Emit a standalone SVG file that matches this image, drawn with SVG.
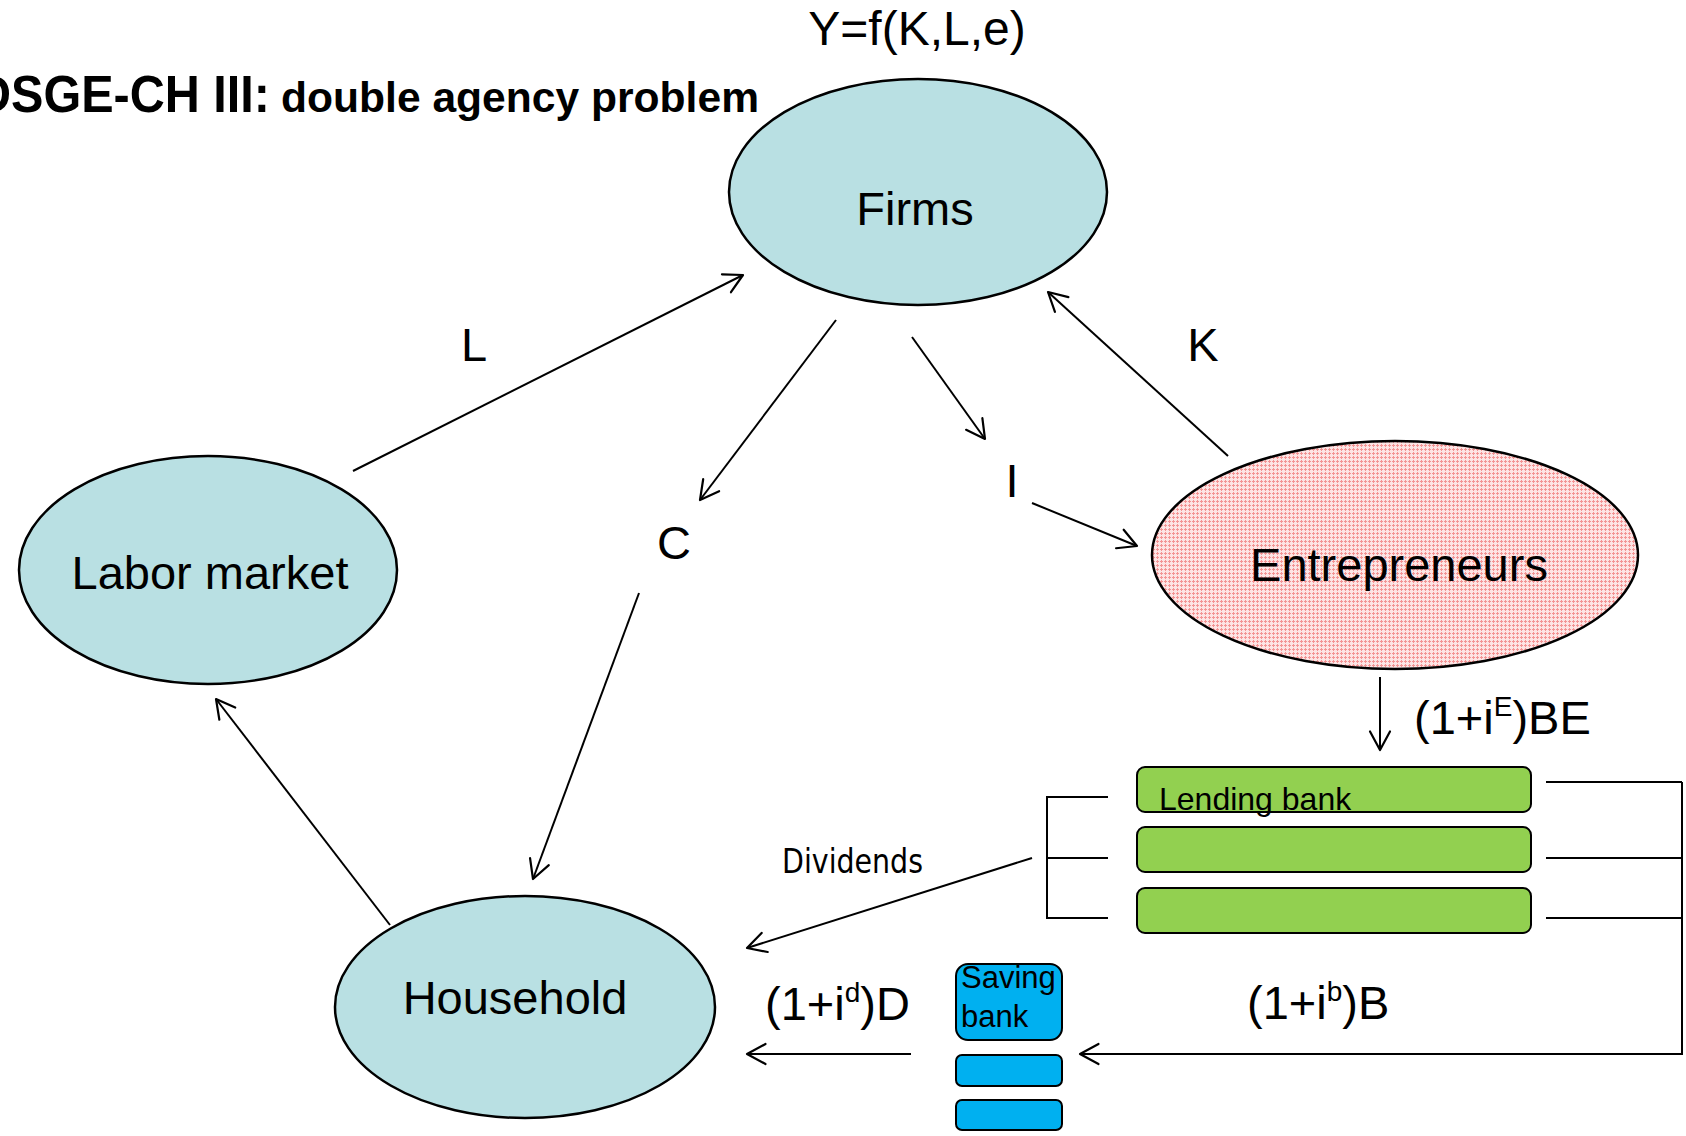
<svg xmlns="http://www.w3.org/2000/svg" width="1686" height="1136" viewBox="0 0 1686 1136">
  <defs>
    <style>
      .lbl { font-family: "Liberation Sans", Arial, sans-serif; fill: #000; }
      .node { stroke: #000; stroke-width: 2.5; }
      .teal { fill: #b9e0e3; }
      .wire { fill: none; stroke: #000; stroke-width: 2; }
      .arrow { fill: none; stroke: #000; stroke-width: 2; marker-end: url(#chev); }
      .green { fill: #92d050; stroke: #000; stroke-width: 2; }
      .blue { fill: #00b0f0; stroke: #000; stroke-width: 2; }
    </style>
    <!-- open V arrowhead -->
    <marker id="chev" markerUnits="userSpaceOnUse" viewBox="-22 -12 24 24" markerWidth="24" markerHeight="24" refX="0" refY="0" orient="auto" overflow="visible">
      <path d="M -18.5 -10 L 0 0 L -18.5 10" fill="none" stroke="#000" stroke-width="2.2" stroke-linecap="round" stroke-linejoin="round"/>
    </marker>
    <!-- pink dotted fill for the entrepreneurs -->
    <pattern id="pinkDots" width="4" height="4" patternUnits="userSpaceOnUse">
      <rect width="4" height="4" fill="#fde4e4"/>
      <rect x="1" y="0" width="1" height="3" fill="#f39494"/>
      <rect x="0" y="1" width="3" height="1" fill="#f39494"/>
    </pattern>
  </defs>

  <rect width="1686" height="1136" fill="#ffffff"/>

  <!-- title -->
  <g id="title" font-weight="bold">
    <text class="lbl" x="-24" y="112" font-size="51" textLength="294" lengthAdjust="spacingAndGlyphs">DSGE-CH III:</text>
    <text class="lbl" x="281" y="112" font-size="42" textLength="478" lengthAdjust="spacingAndGlyphs">double agency problem</text>
  </g>

  <!-- connectors -->
  <g id="connectors">
    <line class="arrow" x1="353" y1="471" x2="743" y2="275"/>
    <line class="arrow" x1="836" y1="320" x2="700" y2="500"/>
    <line class="arrow" x1="639" y1="593" x2="533" y2="879"/>
    <line class="arrow" x1="390" y1="925" x2="216" y2="699"/>
    <line class="arrow" x1="912" y1="337" x2="985" y2="439"/>
    <line class="arrow" x1="1032" y1="503" x2="1137" y2="546"/>
    <line class="arrow" x1="1228" y1="456" x2="1048" y2="292"/>
    <line class="arrow" x1="1380" y1="677" x2="1380" y2="750"/>
    <line class="arrow" x1="1032" y1="858" x2="747" y2="948"/>
    <line class="arrow" x1="911" y1="1054" x2="747" y2="1054"/>
    <!-- left bracket of the lending banks -->
    <path class="wire" d="M 1108 797 H 1047 V 918 H 1108 M 1047 858 H 1108"/>
    <!-- right bracket and loan repayment -->
    <path class="wire" d="M 1546 782 H 1682 M 1546 858 H 1682 M 1546 918 H 1682"/>
    <path class="arrow" d="M 1682 782 V 1054 H 1080"/>

    <text class="lbl" x="474" y="361" font-size="47" text-anchor="middle">L</text>
    <text class="lbl" x="1203" y="361" font-size="47" text-anchor="middle">K</text>
    <text class="lbl" x="674" y="559" font-size="47" text-anchor="middle">C</text>
    <text class="lbl" x="1012" y="497" font-size="47" text-anchor="middle">I</text>
    <text class="lbl" x="1414" y="734" font-size="47">(1+i<tspan font-size="28" dy="-18">E</tspan><tspan dy="18">)BE</tspan></text>
    <text x="782" y="873" font-size="34" font-family="DejaVu Sans Condensed, DejaVu Sans, sans-serif" font-stretch="condensed" textLength="141" lengthAdjust="spacingAndGlyphs">Dividends</text>
    <text class="lbl" x="765" y="1020" font-size="47">(1+i<tspan font-size="28" dy="-18">d</tspan><tspan dy="18">)D</tspan></text>
    <text class="lbl" x="1247" y="1019" font-size="47">(1+i<tspan font-size="28" dy="-18">b</tspan><tspan dy="18">)B</tspan></text>
  </g>

  <g id="output-label">
    <text class="lbl" x="917" y="45" font-size="48" text-anchor="middle">Y=f(K,L,e)</text>
  </g>

  <g id="firms">
    <ellipse class="node teal" cx="918" cy="192" rx="189" ry="113"/>
    <text class="lbl" x="915" y="225" font-size="47" text-anchor="middle">Firms</text>
  </g>

  <g id="labor-market">
    <ellipse class="node teal" cx="208" cy="570" rx="189" ry="114"/>
    <text class="lbl" x="210" y="589" font-size="47" text-anchor="middle">Labor market</text>
  </g>

  <g id="entrepreneurs">
    <ellipse class="node" fill="url(#pinkDots)" cx="1395" cy="555" rx="243" ry="114"/>
    <text class="lbl" x="1399" y="581" font-size="47" text-anchor="middle">Entrepreneurs</text>
  </g>

  <g id="household">
    <ellipse class="node teal" cx="525" cy="1007" rx="190" ry="111"/>
    <text class="lbl" x="515" y="1014" font-size="47" text-anchor="middle">Household</text>
  </g>

  <g id="lending-banks">
    <rect class="green" x="1137" y="767" width="394" height="45" rx="8"/>
    <rect class="green" x="1137" y="827" width="394" height="45" rx="8"/>
    <rect class="green" x="1137" y="888" width="394" height="45" rx="8"/>
    <text class="lbl" x="1159" y="810" font-size="32">Lending bank</text>
  </g>

  <g id="saving-banks">
    <rect class="blue" x="956" y="964" width="106" height="76" rx="12"/>
    <rect class="blue" x="956" y="1055" width="106" height="31" rx="6"/>
    <rect class="blue" x="956" y="1100" width="106" height="30" rx="6"/>
    <text class="lbl" x="961" y="988" font-size="31">Saving</text>
    <text class="lbl" x="961" y="1027" font-size="31">bank</text>
  </g>
</svg>
